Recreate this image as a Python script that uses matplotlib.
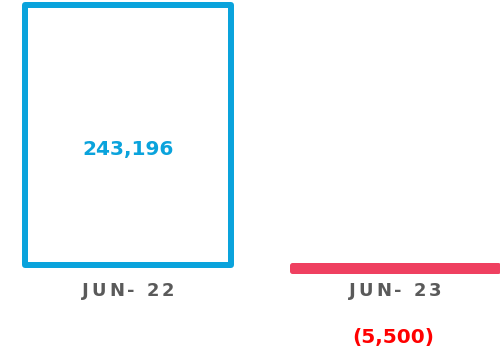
import matplotlib
matplotlib.use("Agg")
import matplotlib.pyplot as plt
from matplotlib.font_manager import FontProperties
from matplotlib.textpath import text_to_path

periods = ["JUN- 22", "JUN- 23"]
values = [243196, -5500]
value_labels = ["243,196", "(5,500)"]

BLUE = "#0aa3dc"
RED = "#ef4060"
GREY = "#5a5a5a"

DPI = 100
fig = plt.figure(figsize=(5.0, 3.46), dpi=DPI)
ax = fig.add_axes([0, 0, 1, 1])
ax.set_axis_off()

# pixel layout: categories 267 px apart, baseline 265 px from top
px_per_cat = 267.0
units_per_px = values[0] / 260.0
ax.set_xlim(-128 / px_per_cat, 1 + (500 - 395) / px_per_cat)
ax.set_ylim(-81 * units_per_px, values[0] + 5 * units_per_px)

width = 206 / px_per_cat
ax.bar(0, values[0], width=width, fill=False, edgecolor=BLUE,
       linewidth=6 * 72 / DPI, joinstyle="round")
ax.bar(1, values[1], width=width, color=RED, edgecolor=RED,
       linewidth=5 * 72 / DPI, joinstyle="round")


def spaced_text(x, y, s, dy, prop, tracking, color):
    # draw each glyph separately so the label gets extra letter spacing
    widths = []
    for ch in s:
        w, _, _ = text_to_path.get_text_width_height_descent(ch, prop, ismath=False)
        if ch == " ":
            w = prop.get_size_in_points() * 0.3
        widths.append(w)
    total = sum(widths) + tracking * (len(s) - 1)
    pos = -total / 2
    for ch, w in zip(s, widths):
        ax.annotate(ch, (x, y), xytext=(pos + w / 2, dy), textcoords="offset points",
                    ha="center", va="center", fontproperties=prop, color=color)
        pos += w + tracking


label_font = FontProperties(family="DejaVu Sans", weight="bold", size=13)
for i, p in enumerate(periods):
    spaced_text(i, 0, p, -18.5, label_font, 2.2, GREY)

ax.text(0, values[0] * 0.445, value_labels[0], ha="center", va="center",
        fontsize=14.5, fontweight="bold", color=BLUE)
ax.annotate(value_labels[1], (1, 0), xytext=(-1, -52), textcoords="offset points",
            ha="center", va="center", fontsize=14.5, fontweight="bold", color="#ff0000")

fig.savefig("out.png", dpi=DPI)
